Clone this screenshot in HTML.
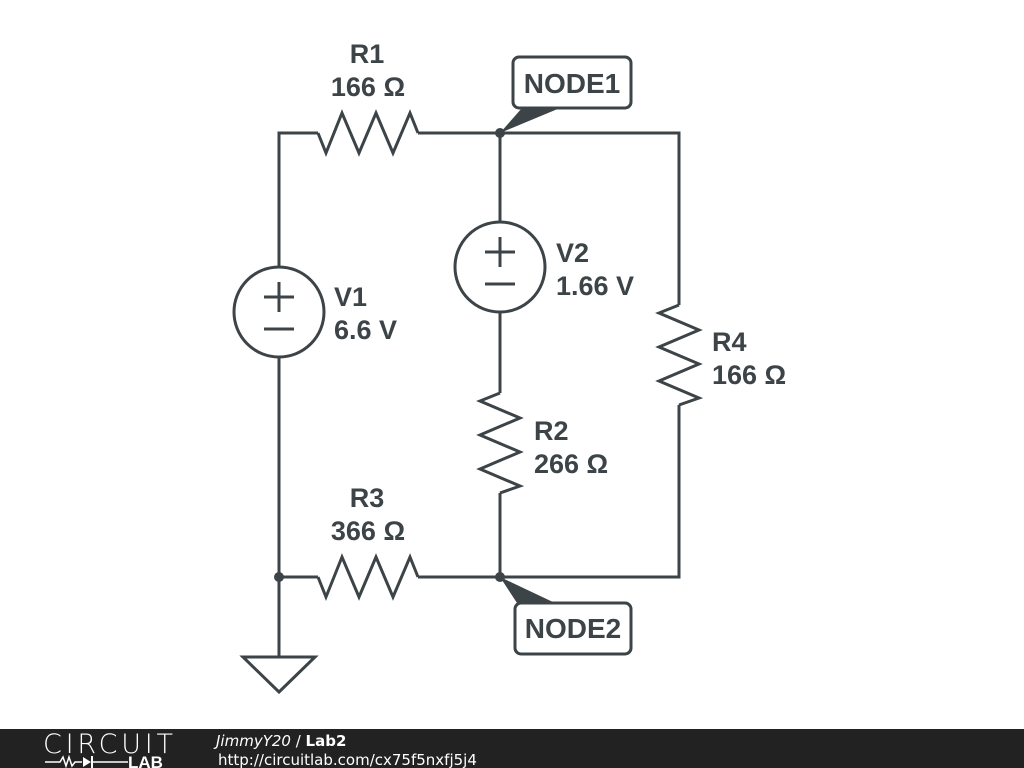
<!DOCTYPE html>
<html><head><style>
body{margin:0;width:1024px;height:768px;background:#fff;overflow:hidden;position:relative;font-family:"Liberation Sans",sans-serif}
svg{position:absolute;left:0;top:0}
</style></head><body>
<svg width="1024" height="768" viewBox="0 0 1024 768">
<g fill="none" stroke="#3c4448" stroke-width="3" stroke-linejoin="miter">
<polyline points="279,267 279,133 318,133"/>
<polyline points="318,133 326,153 342,113 359,153 376,113 393,153 410,113 418,133"/>
<polyline points="418,133 679,133 679,305"/>
<polyline points="679,305 659,313 699,330 659,347 699,364 659,381 699,398 679,405"/>
<polyline points="679,405 679,577 418,577"/>
<line x1="279" y1="577" x2="318" y2="577"/>
<circle cx="279" cy="312" r="45"/>
<line x1="279" y1="357" x2="279" y2="657"/>
<polygon points="243,657 315,657 279,692"/>
<polyline points="318,577 326,597 342,557 359,597 376,557 393,597 410,557 418,577"/>
<line x1="500" y1="133" x2="500" y2="222"/>
<circle cx="500" cy="267" r="45"/>
<line x1="500" y1="312" x2="500" y2="393"/>
<polyline points="500,393 480,401 520,418 480,435 520,452 480,469 520,486 500,493"/>
<line x1="500" y1="493" x2="500" y2="577"/>
<line x1="264" y1="297" x2="294" y2="297"/><line x1="279" y1="282" x2="279" y2="312"/>
<line x1="264" y1="329" x2="294" y2="329"/>
<line x1="485" y1="252" x2="515" y2="252"/><line x1="500" y1="237" x2="500" y2="267"/>
<line x1="485" y1="284" x2="515" y2="284"/>
<rect x="513" y="57" width="118" height="51" rx="6"/>
<rect x="515" y="603" width="116" height="51" rx="6"/>
</g>
<g fill="#3c4448">
<circle cx="500" cy="133" r="5"/><circle cx="500" cy="577" r="5"/><circle cx="279" cy="577" r="5"/>
<polygon points="500,133 522,108 560,108"/>
<polygon points="500,577 517,603 555,603"/>
</g>
<g fill="#3c4448" font-family="Liberation Sans, sans-serif" font-weight="bold" font-size="27">
<text x="367" y="63" text-anchor="middle">R1</text>
<text x="368" y="96" text-anchor="middle">166 Ω</text>
<text x="572" y="93" text-anchor="middle" font-size="28">NODE1</text>
<text x="573" y="638" text-anchor="middle" font-size="28">NODE2</text>
<text x="334" y="306">V1</text>
<text x="334" y="339">6.6 V</text>
<text x="556" y="262">V2</text>
<text x="556" y="295">1.66 V</text>
<text x="712" y="351">R4</text>
<text x="712" y="384">166 Ω</text>
<text x="534" y="440">R2</text>
<text x="534" y="473">266 Ω</text>
<text x="367" y="507" text-anchor="middle">R3</text>
<text x="368" y="540" text-anchor="middle">366 Ω</text>
</g>
<rect x="0" y="729" width="1024" height="39" fill="#222"/>
<text x="43" y="753" fill="#fff" font-size="27" font-family="DejaVu Sans, sans-serif" textLength="130" style="font-weight:200">CIRCUIT</text>
<polyline points="45,762 60,762 63,757 66,766 69,757 72,766 75,762 82,762" fill="none" stroke="#fff" stroke-width="1.5"/>
<polygon points="83,757 83,767 91,762" fill="#fff"/>
<line x1="92" y1="756" x2="92" y2="768" stroke="#fff" stroke-width="2"/>
<line x1="92" y1="762" x2="128" y2="762" stroke="#fff" stroke-width="1.5"/>
<text x="128" y="768" fill="#fff" font-size="17" font-weight="bold" font-family="Liberation Sans, sans-serif">LAB</text>
<text x="216" y="746" fill="#fff" font-size="15" font-family="DejaVu Sans, sans-serif"><tspan font-style="italic">JimmyY20</tspan> / <tspan font-weight="bold">Lab2</tspan></text>
<text x="218" y="765" fill="#fff" font-size="15" font-family="DejaVu Sans, sans-serif">http://circuitlab.com/cx75f5nxfj5j4</text>
</svg>
</body></html>
